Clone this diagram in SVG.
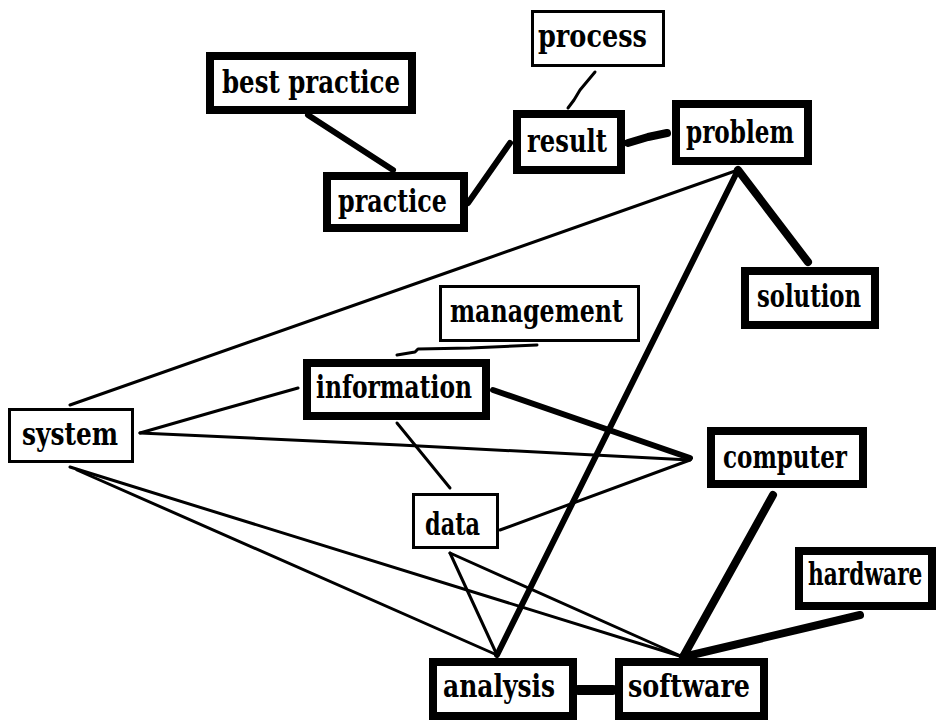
<svg xmlns="http://www.w3.org/2000/svg" width="941" height="722" viewBox="0 0 941 722">
  <style>
    .bg { fill: #ffffff; }
    .box { fill: #ffffff; stroke: #000000; }
    .thick { stroke-width: 8; }
    .thin { stroke-width: 3; }
    .label { font-family: "DejaVu Serif", "Liberation Serif", serif; font-weight: bold; font-size: 31px; fill: #000000; }
    .edge { fill: none; stroke: #000000; stroke-linecap: round; stroke-linejoin: round; }
    .w3 { stroke-width: 3; }
    .w6 { stroke-width: 6; }
    .w8 { stroke-width: 8; }
  </style>

  <rect class="bg" x="0" y="0" width="941" height="722"/>

  <!-- connectors -->
  <g id="connectors">
    <path class="edge w6" d="M308,115 L393,170"/>
    <path class="edge w6" d="M468,203 L510,143"/>
    <path class="edge w3" d="M595,72 L585,84 L580,90 L574,100 L568,108"/>
    <path class="edge w8" d="M628,143 L648,137 L667,133"/>
    <path class="edge w8" d="M738,170 L808,262"/>
    <path class="edge w6" d="M738,170 L497,655"/>
    <path class="edge w3" d="M738,170 L480,261 L70,405"/>
    <path class="edge w3" d="M140,433 L220,410 L298,388"/>
    <path class="edge w3" d="M140,433 L400,445 L690,460"/>
    <path class="edge w6" d="M493,390 L690,458"/>
    <path class="edge w3" d="M397,423 L450,488"/>
    <path class="edge w3" d="M500,530 L690,460"/>
    <path class="edge w3" d="M450,553 L497,655"/>
    <path class="edge w3" d="M450,553 L683,657"/>
    <path class="edge w3" d="M70,467 L683,657"/>
    <path class="edge w3" d="M77,470 L497,655"/>
    <path class="edge w8" d="M773,495 L683,657"/>
    <path class="edge w8" d="M860,615 L683,657"/>
    <path class="edge" stroke-width="10" d="M578,690 L613,690"/>
    <path class="edge w3" d="M397,355 L415,352 L418,349 L470,348 L537,345"/>
  </g>

  <!-- nodes -->
  <g id="node-best-practice">
    <rect class="box thick" x="210" y="56" width="202" height="54"/>
    <text class="label" x="222" y="93" textLength="178" lengthAdjust="spacingAndGlyphs">best practice</text>
  </g>
  <g id="node-process">
    <rect class="box thin" x="532.5" y="11.5" width="131" height="54"/>
    <text class="label" x="538" y="47" textLength="109" lengthAdjust="spacingAndGlyphs">process</text>
  </g>
  <g id="node-result">
    <rect class="box thick" x="517" y="114" width="104" height="56"/>
    <text class="label" x="527" y="152" textLength="80" lengthAdjust="spacingAndGlyphs">result</text>
  </g>
  <g id="node-practice">
    <rect class="box thick" x="327" y="176" width="137" height="52"/>
    <text class="label" x="338" y="212" textLength="109" lengthAdjust="spacingAndGlyphs">practice</text>
  </g>
  <g id="node-problem">
    <rect class="box thick" x="676" y="104" width="132" height="57"/>
    <text class="label" x="686" y="143" textLength="108" lengthAdjust="spacingAndGlyphs">problem</text>
  </g>
  <g id="node-solution">
    <rect class="box thick" x="745" y="271" width="130" height="54"/>
    <text class="label" x="757" y="307" textLength="104" lengthAdjust="spacingAndGlyphs">solution</text>
  </g>
  <g id="node-management">
    <rect class="box thin" x="440.5" y="286.5" width="198" height="54"/>
    <text class="label" x="450" y="322" textLength="173" lengthAdjust="spacingAndGlyphs">management</text>
  </g>
  <g id="node-information">
    <rect class="box thick" x="307" y="363" width="179" height="53"/>
    <text class="label" x="316" y="398" textLength="156" lengthAdjust="spacingAndGlyphs">information</text>
  </g>
  <g id="node-system">
    <rect class="box thin" x="9.5" y="409.5" width="123" height="52"/>
    <text class="label" x="22" y="445" textLength="96" lengthAdjust="spacingAndGlyphs">system</text>
  </g>
  <g id="node-computer">
    <rect class="box thick" x="711" y="431" width="152" height="53"/>
    <text class="label" x="723" y="468" textLength="124" lengthAdjust="spacingAndGlyphs">computer</text>
  </g>
  <g id="node-data">
    <rect class="box thin" x="413.5" y="494.5" width="84" height="53"/>
    <text class="label" x="425" y="535" textLength="55" lengthAdjust="spacingAndGlyphs">data</text>
  </g>
  <g id="node-hardware">
    <rect class="box thick" x="799" y="551" width="133" height="55"/>
    <!-- horizontally condensed by a transform so the label stays inside the frame -->
    <text class="label" transform="translate(808,585) scale(0.7,1)" x="0" y="0">hardware</text>
  </g>
  <g id="node-analysis">
    <rect class="box thick" x="433" y="662" width="140" height="54"/>
    <text class="label" x="443" y="697" textLength="112" lengthAdjust="spacingAndGlyphs">analysis</text>
  </g>
  <g id="node-software">
    <rect class="box thick" x="619" y="662" width="145" height="54"/>
    <text class="label" x="628" y="697" textLength="122" lengthAdjust="spacingAndGlyphs">software</text>
  </g>
</svg>
